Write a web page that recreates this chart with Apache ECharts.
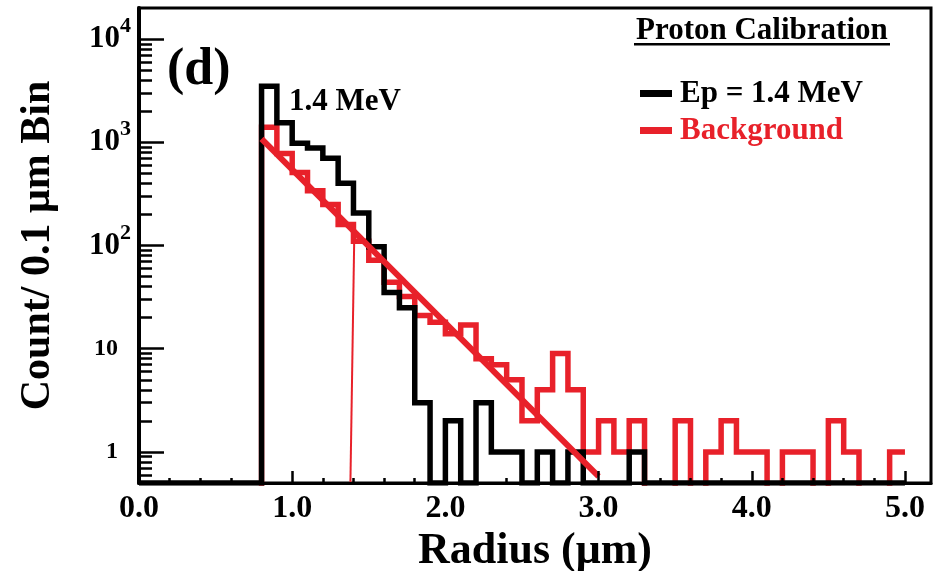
<!DOCTYPE html>
<html>
<head>
<meta charset="utf-8">
<script src="https://cdn.jsdelivr.net/npm/echarts@6/dist/echarts.min.js"></script>
<style>html,body{margin:0;padding:0;background:#fff}#c{width:937px;height:571px}</style>
</head>
<body>
<div id="c"></div>
<script>
// ---- data ----
const binWidth = 0.1; // µm, bins start at 0.0
const protonCounts = [
  0,0,0,0,0,0,0,0, 3500,1550,
  980,880,700,400,206,97,35,25,3,0,
  2,0,3,1,1,0,1,0,1,0,
  0,0,1,0,0,0,0,0,0,0,
  0,0,0,0,0,0,0,0,0,0
];
const backgroundCounts = [
  0,0,0,0,0,0,0,0, 1400,780,
  510,340,250,160,110,72,44,32,21,18,
  14,17,8,7,5,2,4,9,4,1,
  2,1,2,0,0,2,0,1,2,1,
  1,0,1,1,0,2,1,0,0,1
];
const fitLine = [[0.8, 1080], [3.0, 0.58]];
const thresholdLine = [[1.38, 0.5], [1.405, 115]];
const xMajorTicks = [0, 1, 2, 3, 4, 5];
const xMinorTicks = [0.2,0.4,0.6,0.8,1.2,1.4,1.6,1.8,2.2,2.4,2.6,2.8,3.2,3.4,3.6,3.8,4.2,4.4,4.6,4.8];
const yMajorTicks = [1, 10, 100, 1000, 10000];
const yMinorTicks = [0.6,0.7,0.8,0.9,2,3,4,5,6,7,8,9,20,30,40,50,60,70,80,90,
  200,300,400,500,600,700,800,900,2000,3000,4000,5000,6000,7000,8000,9000];
const seriesNames = ['Ep = 1.4 MeV', 'Background'];

// ---- drawing ----
const RED = '#e8212a';
const FONT = '"Liberation Serif", "DejaVu Serif", serif';
const YMIN = 0.5, YMAX = 20000;

function steps(counts, zeroLevel) {
  const pts = [];
  counts.forEach((c, k) => {
    const v = c > 0 ? c : zeroLevel;
    pts.push([+(k * binWidth).toFixed(2), v], [+((k + 1) * binWidth).toFixed(2), v]);
  });
  return pts;
}

const chart = echarts.init(document.getElementById('c'), null, {renderer: 'canvas'});
const txt = {fontFamily: FONT, fontWeight: 'bold', color: '#000'};

chart.setOption({
  animation: false,
  backgroundColor: '#fff',
  grid: {left: 139, right: 6, top: 8, bottom: 88, show: true, borderColor: '#000', borderWidth: 3,
         outerBoundsMode: 'none', containLabel: false},
  legend: {
    orient: 'vertical', left: 635, top: 73, itemWidth: 32, itemHeight: 7, itemGap: 6,
    icon: 'rect', selectedMode: false,
    textStyle: Object.assign({}, txt, {fontSize: 31, padding: [0, 0, 0, 3]}),
    data: [
      {name: seriesNames[0], textStyle: {color: '#000'}},
      {name: seriesNames[1], textStyle: {color: RED}}
    ]
  },
  xAxis: [
    {
      type: 'value', min: 0, max: 5.17, position: 'bottom', z: 10,
      name: 'Radius (μm)', nameLocation: 'middle', nameGap: 34,
      nameTextStyle: Object.assign({}, txt, {fontSize: 44}),
      axisLine: {lineStyle: {color: '#000', width: 3}},
      axisTick: {inside: true, length: 12, customValues: xMajorTicks, lineStyle: {color: '#000', width: 2.5}},
      axisLabel: Object.assign({}, txt, {fontSize: 32, margin: 10, customValues: xMajorTicks,
        formatter: v => Number(v).toFixed(1)}),
      splitLine: {show: false}
    },
    {
      type: 'value', min: 0, max: 5.17, position: 'bottom', z: 10,
      axisLine: {show: false},
      axisTick: {inside: true, length: 5, customValues: xMinorTicks, lineStyle: {color: '#000', width: 2.5}},
      axisLabel: {show: false},
      splitLine: {show: false}
    }
  ],
  yAxis: [
    {
      type: 'log', logBase: 10, min: YMIN, max: YMAX, position: 'left', z: 10,
      name: 'Count/ 0.1 μm Bin', nameLocation: 'middle', nameGap: 80,
      nameTextStyle: Object.assign({}, txt, {fontSize: 42}),
      axisLine: {show: true, lineStyle: {color: '#000', width: 4}},
      axisTick: {inside: true, length: 25, customValues: yMajorTicks, lineStyle: {color: '#000', width: 2.5}},
      axisLabel: {
        margin: 8, customValues: yMajorTicks,
        formatter: v => {
          const e = Math.round(Math.log10(v));
          if (e === 0) return '{n|1}{p|}';
          if (e === 1) return '{n|10}{p|}';
          return '{b|10}{s|' + e + '}';
        },
        rich: {
          n: Object.assign({}, txt, {fontSize: 24}),
          b: Object.assign({}, txt, {fontSize: 31}),
          s: Object.assign({}, txt, {fontSize: 22, padding: [0, 0, 25, 0]}),
          p: {width: 13}
        }
      },
      splitLine: {show: false}
    },
    {
      type: 'log', logBase: 10, min: YMIN, max: YMAX, position: 'left', z: 10,
      axisLine: {show: false},
      axisTick: {inside: true, length: 13, customValues: yMinorTicks, lineStyle: {color: '#000', width: 2.5}},
      axisLabel: {show: false},
      splitLine: {show: false}
    }
  ],
  series: [
    {
      name: seriesNames[1], type: 'line', data: steps(backgroundCounts, 0.4), symbol: 'none',
      color: RED, lineStyle: {color: RED, width: 5.5, join: 'miter', cap: 'butt'}, z: 2, clip: true
    },
    {
      name: seriesNames[0], type: 'line', data: steps(protonCounts, YMIN), symbol: 'none',
      color: '#000', lineStyle: {color: '#000', width: 5.5, join: 'miter', cap: 'butt'}, z: 3, clip: true
    },
    {
      name: 'fit', type: 'line', data: fitLine, symbol: 'none',
      lineStyle: {color: RED, width: 6}, z: 4
    },
    {
      name: 'threshold', type: 'line', data: thresholdLine, symbol: 'none',
      lineStyle: {color: RED, width: 2}, z: 4
    }
  ],
  graphic: [
    {type: 'text', left: 167, top: 45, style: Object.assign({}, txt, {text: '(d)', fontSize: 52, fill: '#000'})},
    {type: 'text', left: 289, top: 86, style: Object.assign({}, txt, {text: '1.4 MeV', fontSize: 31, fill: '#000'})},
    {type: 'text', left: 636, top: 15, style: Object.assign({}, txt, {text: 'Proton Calibration', fontSize: 31, fill: '#000'})},
    {type: 'rect', left: 634, top: 43, shape: {width: 256, height: 2.5}, style: {fill: '#000'}}
  ]
});
</script>
</body>
</html>
